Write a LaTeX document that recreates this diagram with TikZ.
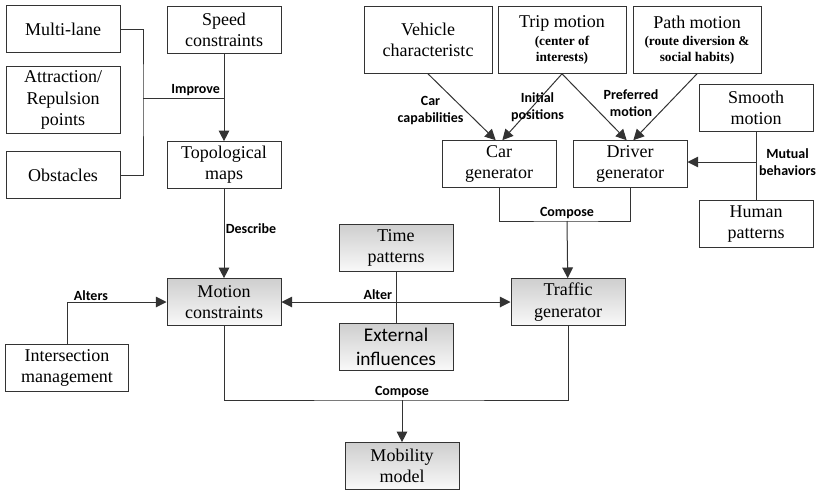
\documentclass[tikz,border=0pt]{standalone}
\usepackage{fontspec}
\setmainfont{Liberation Serif}
\newfontfamily\lblfont{Carlito}
\usetikzlibrary{arrows.meta,shadows}
\newcommand{\subtxt}{\fontsize{10}{11}\selectfont\bfseries}

\begin{document}
\begin{tikzpicture}[x=0.75pt,y=-0.75pt,line width=0.75pt,draw=black!80,
    box/.style={draw=black!80,minimum width=85.5pt,minimum height=35pt,
      align=center,inner sep=1pt,font=\fontsize{13.5}{16}\selectfont},
    widebox/.style={box,minimum width=96pt,minimum height=50pt},
    graybox/.style={box,top color=gray!38,bottom color=gray!5,
      drop shadow={opacity=0.25,shadow xshift=0.8pt,shadow yshift=-0.8pt}},
    lbl/.style={font=\lblfont\bfseries\fontsize{10.5}{12.5}\selectfont,
      align=center,inner sep=1pt},
    arr/.style={->,>={Triangle[length=8pt,width=8pt]}},
    biarr/.style={<->,>={Triangle[length=8pt,width=8pt]}}]
  \useasboundingbox (0,0) rectangle (821,493);

  % left column
  \node[box] (multi) at (63,29) {Multi-lane};
  \node[box,minimum height=50pt] (attr) at (63,100) {Attraction/\\Repulsion\\points};
  \node[box] (obst) at (63,175) {Obstacles};
  \node[box] (speed) at (224,30) {Speed\\constraints};
  \node[box] (topo) at (224,165) {Topological\\maps};
  \node[box,minimum width=92pt] (inter) at (67,368) {Intersection\\management};

  % top right
  \node[widebox] (vehicle) at (428,40) {Vehicle\\characteristc};
  \node[widebox] (trip) at (562,40) {Trip motion\\[-3pt]{\subtxt (center of}\\[-4pt]{\subtxt interests)}};
  \node[widebox] (path) at (697,40) {Path motion\\[-3pt]{\subtxt (route diversion \&}\\[-4pt]{\subtxt social habits)}};
  \node[box] (smooth) at (756,108) {Smooth\\motion};
  \node[box] (car) at (499,164) {Car\\generator};
  \node[box] (driver) at (630,164) {Driver\\generator};
  \node[box] (human) at (756,224) {Human\\patterns};

  % shaded boxes
  \node[graybox] (time) at (396,248) {Time\\patterns};
  \node[graybox] (motion) at (224,302) {Motion\\constraints};
  \node[graybox] (traffic) at (568,302) {Traffic\\generator};
  \node[graybox,font=\lblfont\fontsize{14.5}{17.5}\selectfont] (ext) at (396,347) {External\\influences};
  \node[graybox] (mob) at (402,466) {Mobility\\model};

  % junctions
  \coordinate (imp) at (143,98);
  \coordinate (cmpA) at (567,221);
  \coordinate (cmpB) at (402,400);
  \coordinate (mut) at (756,162);

  \draw (multi.east) -| (imp) |- (obst.east);
  \draw (imp) -- node[lbl,above,pos=0.65] {Improve} (imp -| speed.south);
  \draw[arr] (speed) -- (topo);
  \draw[arr] (topo) -- node[lbl,right,pos=0.45] {Describe} (motion);
  \draw[arr] (inter.north) |- node[lbl,above,pos=0.62] {Alters} (motion.west);

  \draw (time) -- (ext);
  \draw[biarr] (motion.east) -- (traffic.west);
  \node[lbl,anchor=south east] (alter) at (394,301) {Alter};

  \draw[arr] (vehicle.south) -- node[lbl,left,pos=0.55] {Car\\capabilities} ([xshift=-2.5pt]car.north);
  \draw[arr] (trip.south) -- node[lbl,pos=0.5,xshift=4pt] {Initial\\positions} ([xshift=2.5pt]car.north);
  \draw[arr] (trip.south) -- ([xshift=-2.5pt]driver.north);
  \draw[arr] (path.south) -- ([xshift=2.5pt]driver.north);
  \node[lbl] (pref) at (631,103) {Preferred\\motion};

  \draw (smooth) -- (human);
  \draw[arr] (mut) -- node[lbl,right,pos=0,xshift=1pt] {Mutual\\behaviors} (mut -| driver.east);

  \draw (car.south) |- (cmpA) -| (driver.south);
  \draw[arr] (cmpA) -- (traffic);
  \node[lbl,above] (compA) at (cmpA) {Compose};

  \draw (motion.south) |- (cmpB) -| (traffic.south);
  \draw[arr] (cmpB) -- (mob);
  \node[lbl,above] (compB) at (cmpB) {Compose};
\end{tikzpicture}
\end{document}
